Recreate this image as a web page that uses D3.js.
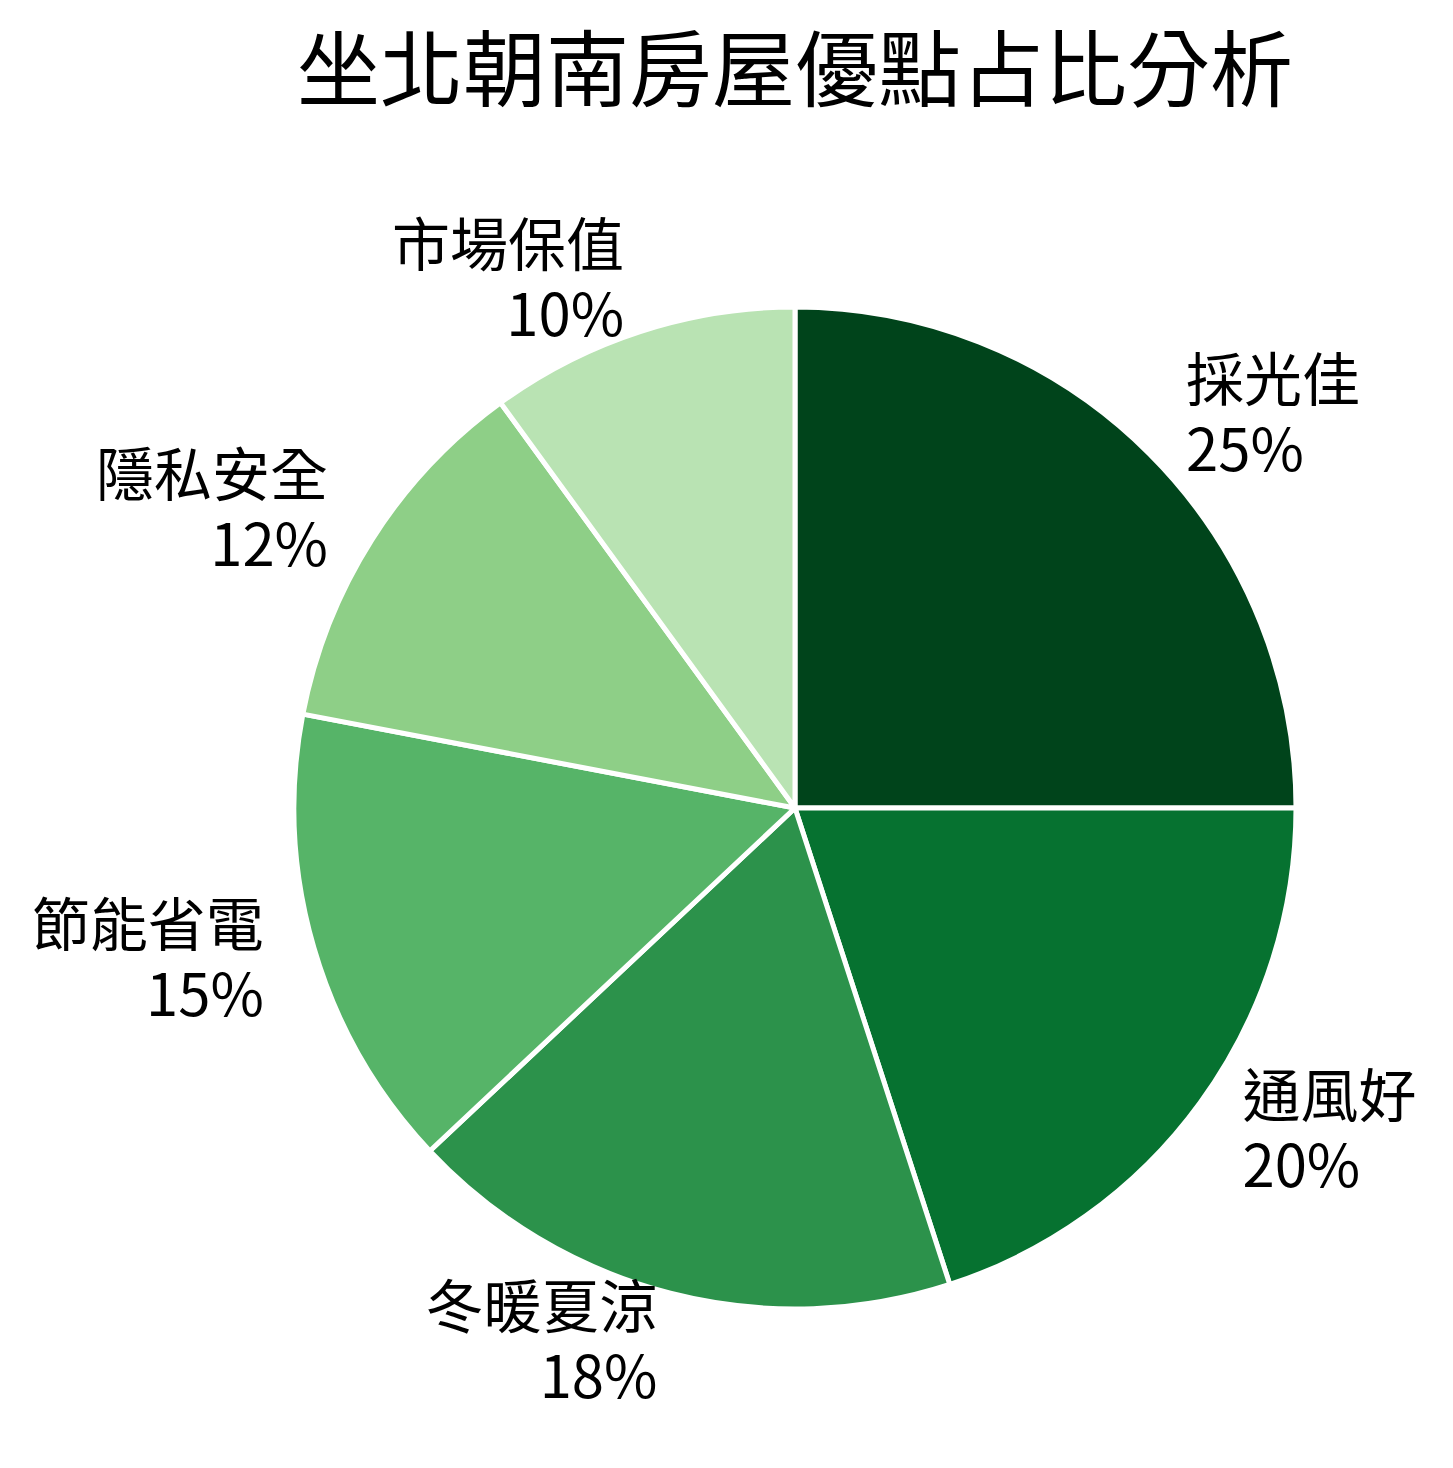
<!DOCTYPE html>
<html lang="zh-Hant">
<head>
  <meta charset="UTF-8">
  <title>坐北朝南房屋優點占比分析</title>
  <script src="https://d3js.org/d3.v7.min.js"></script>
  <style>
    body {
      margin: 0;
      padding: 0;
      background-color: #fff;
      font-family: 'Noto Sans CJK TC', 'Noto Sans CJK SC', sans-serif;
    }
    .title {
      font-size: 83px;
      fill: #000;
    }
    .slice-label {
      font-size: 58px;
      fill: #000;
    }
  </style>
</head>
<body>
  <div id="chart"></div>

  <script>
    const categories = ["採光佳", "通風好", "冬暖夏涼", "節能省電", "隱私安全", "市場保值"];
    const values = [25, 20, 18, 15, 12, 10];
    const colors = ["#00441b", "#067230", "#2c924b", "#56b468", "#8ecf87", "#b9e3b3"];
    const title = "坐北朝南房屋優點占比分析";

    const width = 1453, height = 1468;
    const cx = 795, cy = 808;
    const radius = 501;

    const svg = d3.select("#chart")
      .append("svg")
      .attr("width", width)
      .attr("height", height);

    svg.append("text")
      .attr("class", "title")
      .attr("x", cx)
      .attr("y", 64)
      .attr("text-anchor", "middle")
      .attr("dominant-baseline", "central")
      .text(title);

    const data = categories.map((c, i) => ({ name: c, value: values[i], color: colors[i] }));

    // clockwise from 12 o'clock, keep the given order
    const pie = d3.pie()
      .value(d => d.value)
      .sort(null);

    const arc = d3.arc()
      .innerRadius(0)
      .outerRadius(radius);

    const g = svg.append("g")
      .attr("transform", "translate(" + cx + "," + cy + ")");

    const arcs = pie(data);

    g.selectAll("path")
      .data(arcs)
      .enter()
      .append("path")
      .attr("d", arc)
      .attr("fill", d => d.data.color)
      .attr("stroke", "#fff")
      .attr("stroke-width", 5)
      .attr("stroke-linejoin", "round");

    // labels just outside the pie, name above percentage
    const labelR = radius * 1.104;
    const lineGap = 70;

    const labelPos = d => {
      const mid = (d.startAngle + d.endAngle) / 2;
      return [labelR * Math.sin(mid), -labelR * Math.cos(mid) - 6];
    };
    const anchor = d => Math.sin((d.startAngle + d.endAngle) / 2) >= 0 ? "start" : "end";

    g.selectAll(".slice-name")
      .data(arcs)
      .enter()
      .append("text")
      .attr("class", "slice-label slice-name")
      .attr("text-anchor", anchor)
      .attr("dominant-baseline", "central")
      .attr("x", d => labelPos(d)[0])
      .attr("y", d => labelPos(d)[1] - lineGap / 2)
      .text(d => d.data.name);

    g.selectAll(".slice-pct")
      .data(arcs)
      .enter()
      .append("text")
      .attr("class", "slice-label slice-pct")
      .attr("text-anchor", anchor)
      .attr("dominant-baseline", "central")
      .attr("x", d => labelPos(d)[0])
      .attr("y", d => labelPos(d)[1] + lineGap / 2)
      .text(d => d.data.value + "%");
  </script>
</body>
</html>
